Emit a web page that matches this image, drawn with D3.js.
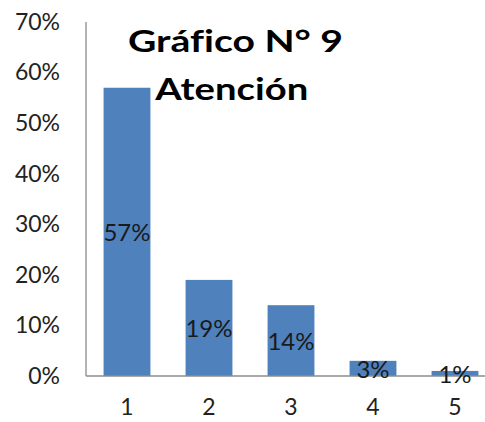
<!DOCTYPE html>
<html>
<head>
<meta charset="utf-8">
<script src="https://cdn.jsdelivr.net/npm/d3@7"></script>
<style>
  html, body { margin: 0; padding: 0; background: #fff; }
  svg { display: block; }
  text { font-variant-ligatures: none; }
</style>
</head>
<body>
<svg id="chart" width="485" height="422"></svg>
<script>
// Chart data
const categories = ["1", "2", "3", "4", "5"];
const values = [0.57, 0.19, 0.14, 0.03, 0.01];
const yTicks = [0, 0.1, 0.2, 0.3, 0.4, 0.5, 0.6, 0.7];
const titleLines = ["Gráfico N° 9", "Atención"];

(function () {
  const svg = d3.select("#chart");
  const W = 485;
  const plotLeft = 86, plotTop = 22, plotBottom = 376;
  const step = 82;

  const x = d3.scaleBand()
    .domain(categories)
    .range([plotLeft, plotLeft + step * categories.length])
    .paddingInner(0.4286)
    .paddingOuter(0.2143);

  const y = d3.scaleLinear().domain([0, 0.7]).range([plotBottom, plotTop]);

  const font = "Lato, 'Liberation Sans', Arial, sans-serif";
  const fmt = d3.format(".0%");

  // Y axis labels
  const yAxis = d3.axisLeft(y).tickValues(yTicks).tickFormat(fmt).tickSize(0).tickPadding(26);
  const gy = svg.append("g").attr("transform", `translate(${plotLeft},0)`).call(yAxis);
  gy.select(".domain").remove();
  gy.selectAll("text")
    .attr("font-family", font).attr("font-size", 23).attr("fill", "#222");

  // X axis labels
  const xAxis = d3.axisBottom(x).tickSize(0).tickPadding(23);
  const gx = svg.append("g").attr("transform", `translate(0,${plotBottom})`).call(xAxis);
  gx.select(".domain").remove();
  gx.selectAll("text")
    .attr("font-family", font).attr("font-size", 23).attr("fill", "#222");

  // Bars
  svg.append("g").selectAll("rect")
    .data(values)
    .join("rect")
    .attr("x", (d, i) => x(categories[i]))
    .attr("y", d => y(d))
    .attr("width", x.bandwidth())
    .attr("height", d => y(0) - y(d))
    .attr("fill", "#4F81BD");

  // Axis lines
  svg.append("line")
    .attr("x1", plotLeft).attr("x2", plotLeft).attr("y1", plotTop).attr("y2", plotBottom)
    .attr("stroke", "#8c8c8c").attr("stroke-width", 1.3);
  svg.append("line")
    .attr("x1", plotLeft).attr("x2", W).attr("y1", plotBottom).attr("y2", plotBottom)
    .attr("stroke", "#8c8c8c").attr("stroke-width", 1.3);

  // Value labels, centred in each bar
  svg.append("g").selectAll("text")
    .data(values)
    .join("text")
    .attr("x", (d, i) => x(categories[i]) + x.bandwidth() / 2)
    .attr("y", d => (y(d) + y(0)) / 2)
    .attr("text-anchor", "middle")
    .attr("dominant-baseline", "central")
    .attr("font-family", font).attr("font-size", 24).attr("fill", "#1a1a1a")
    .text(d => fmt(d));

  // Title
  const titlePos = [
    { cx: 235.5, base: 52, len: 215 },
    { cx: 231.7, base: 100, len: 153 }
  ];
  svg.append("g").selectAll("text")
    .data(titleLines)
    .join("text")
    .attr("x", (d, i) => titlePos[i].cx)
    .attr("y", (d, i) => titlePos[i].base)
    .attr("text-anchor", "middle")
    .attr("font-family", font).attr("font-weight", "bold").attr("font-size", 31)
    .attr("fill", "#000")
    .attr("textLength", (d, i) => titlePos[i].len)
    .attr("lengthAdjust", "spacingAndGlyphs")
    .text(d => d);
})();
</script>
</body>
</html>
